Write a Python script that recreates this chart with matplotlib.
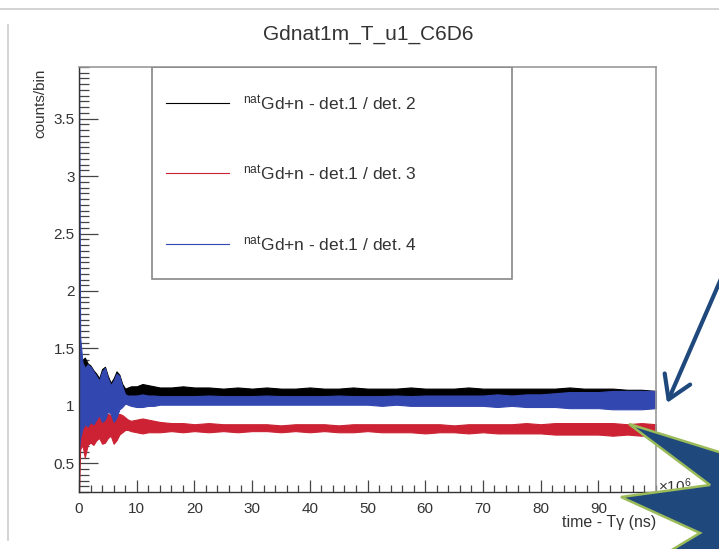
"""Gdnat1m_T_u1_C6D6 ratio plot (ROOT style) with slide annotations."""
import matplotlib
matplotlib.use("Agg")
import matplotlib.pyplot as plt
from matplotlib.ticker import MultipleLocator, FormatStrFormatter
from matplotlib.patches import Polygon, Rectangle, FancyArrowPatch
from matplotlib.lines import Line2D

plt.rcParams["font.family"] = ["Liberation Sans", "DejaVu Sans"]
plt.rcParams["mathtext.fontset"] = "custom"
plt.rcParams["mathtext.rm"] = "Liberation Sans"
plt.rcParams["mathtext.it"] = "Liberation Sans:italic"

# time - Tgamma in units of 1e6 ns
t = [0, 0.2, 0.6, 1.0, 1.5, 2.0, 2.5, 3.0, 3.5, 4.0, 4.5, 5.0, 5.5, 6.0, 6.5,
     7.0, 7.5, 8.0, 8.5, 9, 10, 11, 12, 13, 14, 16, 18, 20, 22.5, 25, 27.5,
     30, 32.5, 35, 37.5, 40, 42.5, 45, 47.5, 50, 52.5, 55, 57.5, 60, 62.5,
     65, 67.5, 70, 72.5, 75, 77.5, 80, 82.5, 85, 87.5, 90, 92.5, 95, 97.5, 100]

# band envelopes (min / max counts per bin)
det2_hi = [1.30, 1.45, 1.40, 1.42, 1.37, 1.35, 1.31, 1.28, 1.24, 1.32, 1.34,
           1.26, 1.20, 1.24, 1.30, 1.27, 1.19, 1.15, 1.16, 1.17, 1.17, 1.19,
           1.18, 1.17, 1.16, 1.16, 1.17, 1.16, 1.16, 1.15, 1.16, 1.15, 1.16,
           1.15, 1.15, 1.16, 1.15, 1.15, 1.16, 1.15, 1.15, 1.15, 1.16, 1.15,
           1.15, 1.15, 1.16, 1.15, 1.15, 1.15, 1.15, 1.15, 1.15, 1.16, 1.15,
           1.15, 1.15, 1.14, 1.14, 1.13]
det2_lo = [0.90, 0.95, 0.95, 0.95, 0.95, 0.95, 0.95, 0.95, 0.95, 0.95, 0.95,
           0.98, 0.98, 0.98, 0.98, 1.00, 1.03, 1.06, 1.06, 1.06, 1.06, 1.06,
           1.06, 1.06, 1.06, 1.06, 1.06, 1.06, 1.06, 1.06, 1.06, 1.06, 1.06,
           1.06, 1.06, 1.06, 1.06, 1.06, 1.06, 1.06, 1.06, 1.06, 1.06, 1.06,
           1.06, 1.06, 1.06, 1.06, 1.06, 1.06, 1.06, 1.06, 1.06, 1.06, 1.06,
           1.06, 1.06, 1.06, 1.06, 1.06]

det3_hi = [0.80, 0.82, 0.84, 0.85, 0.86, 0.87, 0.86, 0.90, 0.92, 0.88, 0.90,
           0.93, 0.92, 0.88, 0.92, 0.93, 0.92, 0.90, 0.88, 0.87, 0.88, 0.89,
           0.88, 0.87, 0.86, 0.85, 0.85, 0.84, 0.85, 0.84, 0.84, 0.84, 0.84,
           0.83, 0.84, 0.84, 0.84, 0.83, 0.84, 0.84, 0.84, 0.84, 0.84, 0.84,
           0.84, 0.83, 0.84, 0.84, 0.84, 0.84, 0.85, 0.84, 0.85, 0.85, 0.85,
           0.85, 0.85, 0.84, 0.85, 0.84]
det3_lo = [0.25, 0.62, 0.66, 0.55, 0.66, 0.68, 0.66, 0.70, 0.72, 0.67, 0.68,
           0.72, 0.74, 0.67, 0.70, 0.75, 0.77, 0.79, 0.79, 0.78, 0.77, 0.76,
           0.77, 0.77, 0.77, 0.78, 0.77, 0.78, 0.77, 0.78, 0.77, 0.78, 0.78,
           0.77, 0.78, 0.77, 0.78, 0.77, 0.77, 0.78, 0.77, 0.77, 0.77, 0.76,
           0.77, 0.77, 0.76, 0.77, 0.76, 0.76, 0.76, 0.76, 0.75, 0.75, 0.75,
           0.75, 0.74, 0.75, 0.74, 0.75]

det4_hi = [3.95, 1.60, 1.38, 1.33, 1.36, 1.34, 1.30, 1.26, 1.22, 1.30, 1.33,
           1.24, 1.18, 1.22, 1.28, 1.26, 1.17, 1.10, 1.09, 1.09, 1.09, 1.10,
           1.09, 1.09, 1.085, 1.085, 1.085, 1.085, 1.09, 1.085, 1.085, 1.085,
           1.09, 1.085, 1.085, 1.085, 1.085, 1.09, 1.085, 1.085, 1.085, 1.09,
           1.085, 1.09, 1.09, 1.09, 1.09, 1.09, 1.10, 1.09, 1.10, 1.10, 1.11,
           1.12, 1.12, 1.12, 1.13, 1.13, 1.13, 1.13]
det4_lo = [0.62, 0.72, 0.80, 0.84, 0.82, 0.86, 0.84, 0.88, 0.92, 0.86, 0.88,
           0.95, 0.93, 0.86, 0.90, 0.97, 0.99, 1.02, 1.01, 1.00, 0.99, 0.99,
           1.00, 1.00, 1.01, 1.01, 1.01, 1.01, 1.01, 1.01, 1.01, 1.01, 1.01,
           1.01, 1.01, 1.01, 1.01, 1.01, 1.01, 1.01, 1.00, 1.01, 1.00, 1.00,
           1.00, 1.00, 1.00, 1.00, 0.99, 1.00, 0.99, 0.99, 0.99, 0.98, 0.98,
           0.98, 0.97, 0.97, 0.97, 0.98]

labels = [r"$^{\mathrm{nat}}$Gd+n - det.1 / det. 2",
          r"$^{\mathrm{nat}}$Gd+n - det.1 / det. 3",
          r"$^{\mathrm{nat}}$Gd+n - det.1 / det. 4"]
colors = ["#000000", "#cc2233", "#3347b0"]

W, H = 719, 549
fig = plt.figure(figsize=(W / 100, H / 100), dpi=100, facecolor="white")


def fx(px):
    return px / W


def fy(py):
    return 1 - py / H


ax = fig.add_axes([fx(79), fy(492), fx(656) - fx(79), fy(67) - fy(492)])

series = [(det2_lo, det2_hi), (det3_lo, det3_hi), (det4_lo, det4_hi)]
for (lo, hi), c in zip(series, colors):
    ax.fill_between(t, lo, hi, color=c, lw=0.8, ec=c, zorder=2)

ax.set_xlim(0, 100)
ax.set_ylim(0.25, 3.95)
ax.set_xticks(range(0, 100, 10))
ax.xaxis.set_minor_locator(MultipleLocator(2))
ax.yaxis.set_minor_locator(MultipleLocator(0.05))
ax.yaxis.set_major_formatter(FormatStrFormatter("%g"))
ax.set_yticks([0.5, 1, 1.5, 2, 2.5, 3, 3.5])
ax.tick_params(axis="both", which="both", direction="in", colors="#444444",
               labelcolor="#333333", labelsize=11, width=0.9)
ax.tick_params(axis="y", which="major", length=13.5, pad=3)
ax.tick_params(axis="y", which="minor", length=7)
ax.tick_params(axis="x", which="major", length=8.5, pad=7)
ax.tick_params(axis="x", which="minor", length=5)
ax.tick_params(top=False, right=False, which="both")
for s in ["left", "bottom"]:
    ax.spines[s].set_color("#333333")
    ax.spines[s].set_linewidth(1.0)
for s in ["top", "right"]:
    ax.spines[s].set_color("#999999")
    ax.spines[s].set_linewidth(1.2)

# legend box in ROOT style
ax.add_patch(Rectangle((0.1265, 0.501), 0.6239, 0.499, transform=ax.transAxes,
                       fill=False, ec="#888888", lw=1.2, zorder=5))
for ly, lab, c in zip([0.915, 0.7506, 0.5835], labels, colors):
    ax.add_line(Line2D([0.151, 0.26], [ly, ly], transform=ax.transAxes,
                       color=c, lw=0.8, zorder=6))
    ax.text(0.284, ly, lab, transform=ax.transAxes, fontsize=12.5,
            color="#333333", va="center", ha="left", zorder=6)

fig.text(fx(368), fy(34), "Gdnat1m_T_u1_C6D6", fontsize=15, color="#333333",
         ha="center", va="center")
fig.text(fx(40), fy(69), "counts/bin", rotation=90, fontsize=11,
         color="#333333", ha="center", va="top")
fig.text(fx(656), fy(522), "time - Tγ (ns)", fontsize=11.5,
         color="#333333", ha="right", va="center")
fig.text(fx(658), fy(492), r"$\times$10$^{6}$", fontsize=11,
         color="#333333", ha="left", va="baseline")

# screenshot frame lines
fig.add_artist(Line2D([0, 1], [fy(9), fy(9)], color="#cccccc", lw=1.2))
fig.add_artist(Line2D([fx(8), fx(8)], [fy(25), fy(540)], color="#cccccc",
                      lw=1.2))

# slide annotations: arrow and starburst callout
fig.add_artist(FancyArrowPatch((fx(727), fy(265)), (fx(667), fy(403)),
                               transform=fig.transFigure,
                               arrowstyle="->,head_length=16,head_width=10",
                               mutation_scale=1, color="#1f497d", lw=3,
                               shrinkA=0, shrinkB=0, capstyle="round",
                               joinstyle="round"))
callout = [(719, 452), (629, 424), (710, 485), (621, 497), (700, 533),
           (655, 560), (730, 560), (730, 452)]
fig.add_artist(Polygon([(fx(x), fy(y)) for x, y in callout], closed=True,
                       transform=fig.transFigure, fc="#1f497d", ec="#9bbb59",
                       lw=1.8, zorder=10))

fig.savefig("out.png", dpi=100, facecolor="white")
